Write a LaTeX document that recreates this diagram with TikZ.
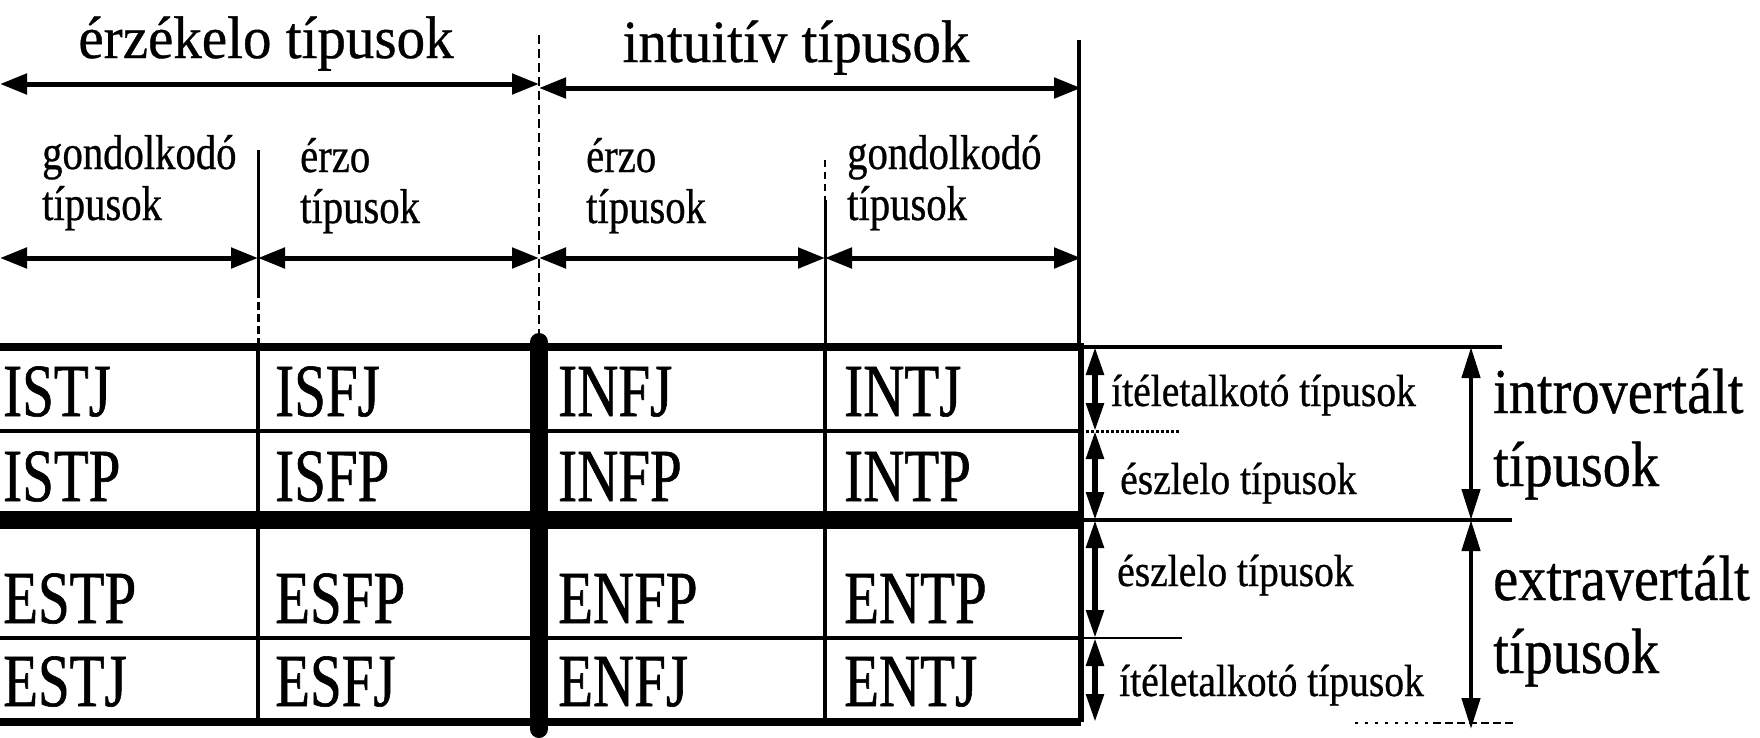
\documentclass[tikz,border=0pt]{standalone}
\usepackage{fontspec}
\setmainfont{Liberation Serif}
\newfontfamily\cellfont[FakeStretch=0.76,FakeBold=0.8]{Liberation Serif}
\newfontfamily\subfont[FakeStretch=0.83,FakeBold=0.6]{Liberation Serif}
\newfontfamily\sidefont[FakeStretch=0.88,FakeBold=0.6]{Liberation Serif}
\newfontfamily\hdrfont[FakeStretch=0.95,FakeBold=0.6]{Liberation Serif}
\usetikzlibrary{arrows.meta}
\tikzset{
  hdim/.style={line width=5pt, {Triangle[length=27pt,width=20pt]}-{Triangle[length=27pt,width=20pt]}},
  vdim/.style={line width=5.5pt, {Triangle[length=28pt,width=17pt]}-{Triangle[length=28pt,width=17pt]}},
  bigvdim/.style={line width=4.5pt, {Triangle[length=31pt,width=18pt]}-{Triangle[length=31pt,width=18pt]}},
  cell/.style={anchor=base west, inner sep=0pt, font=\cellfont\fontsize{75}{75}\selectfont},
  hdr/.style={anchor=base, inner sep=0pt, font=\hdrfont\fontsize{60}{60}\selectfont},
  sub/.style={anchor=base west, inner sep=0pt, font=\subfont\fontsize{49}{49}\selectfont},
  side/.style={anchor=base west, inner sep=0pt, font=\sidefont\fontsize{45}{45}\selectfont},
  big/.style={anchor=base west, inner sep=0pt, font=\sidefont\fontsize{64}{64}\selectfont},
  thin/.style={line width=3.5pt},
  gridthick/.style={line width=18pt},
}
\begin{document}
\begin{tikzpicture}[x=1pt,y=-1pt]
\useasboundingbox (0,0) rectangle (1760,737);
% grid coordinates
\foreach \n/\xx in {0/0,1/258,2/539,3/825,4/1081}{
  \foreach \m/\yy in {0/347,1/431,2/520,3/638,4/722}{
    \coordinate (g\n\m) at (\xx,\yy);
  }
}
% table horizontal lines
\draw[line width=8pt] (g00) -- (g40);
\draw[thin] (g01) -- (g41);
\draw[gridthick] (g02) -- (g42);
\draw[line width=4.5pt] (g03) -- (g43);
\draw[line width=8pt] (g04) -- (g44);
% table vertical lines
\draw[thin] (g10) -- (g14);
\draw[thin] (g30) -- (g34);
\coordinate (rtop) at (1081,343);
\draw[line width=6pt] (rtop) -- (g44);
\coordinate (ctop) at (539,342);
\coordinate (cbot) at (539,729);
\draw[gridthick, line cap=round] (ctop) -- (cbot);
% extensions right
\coordinate (e0) at (1502,347);
\coordinate (e1) at (1180,431);
\coordinate (e2) at (1512,520);
\coordinate (e3) at (1182,638);
\coordinate (e4a) at (1355,723);
\coordinate (e4b) at (1433,723);
\coordinate (e4c) at (1515,723);
\draw[line width=3.5pt] (g40) -- (e0);
\draw[line width=3pt, dotted] (g41) -- (e1);
\draw[line width=3.5pt] (g42) -- (e2);
\draw[line width=2.5pt] (g43) -- (e3);
\draw[line width=2.5pt, dash pattern=on 3pt off 7pt] (e4a) -- (e4b);
\draw[line width=2.5pt, dash pattern=on 8pt off 4pt] (e4b) -- (e4c);
% vertical guides above table
\coordinate (v1a) at (258,150);
\coordinate (v1b) at (258,290);
\draw[line width=3pt] (v1a) -- (v1b);
\draw[line width=3pt, dash pattern=on 8pt off 4pt] (v1b) -- (g10);
\coordinate (v2a) at (539,35);
\draw[line width=2.5pt, dash pattern=on 9pt off 5pt] (v2a) -- (g20);
\coordinate (v3a) at (825,160);
\coordinate (v3b) at (825,200);
\draw[line width=2.5pt, dash pattern=on 7pt off 5pt] (v3a) -- (v3b);
\draw[line width=3pt] (v3b) -- (g30);
\coordinate (v4a) at (1079,40);
\coordinate (v4b) at (1079,347);
\draw[line width=3.5pt] (v4a) -- (v4b);
% top dimension arrows
\coordinate (t0) at (0,84);
\coordinate (t1) at (539,84);
\coordinate (t1b) at (539,88);
\coordinate (t2) at (1081,88);
\draw[hdim] (t0) -- (t1);
\draw[hdim] (t1b) -- (t2);
\foreach \i/\xx in {0/0,1/258,2/539,3/825,4/1081}{
  \coordinate (s\i) at (\xx,258);
}
\draw[hdim] (s0) -- (s1);
\draw[hdim] (s1) -- (s2);
\draw[hdim] (s2) -- (s3);
\draw[hdim] (s3) -- (s4);
% right dimension arrows
\foreach \i/\yy in {0/347,1/431,2/520,3/638,4/722}{
  \coordinate (a\i) at (1095,\yy);
}
\draw[vdim] (a0) -- (a1);
\draw[vdim] (a1) -- (a2);
\draw[vdim] (a2) -- (a3);
\draw[vdim] (a3) -- (a4);
\coordinate (b0) at (1471,347);
\coordinate (b1) at (1471,520);
\coordinate (b2) at (1471,729);
\draw[bigvdim] (b0) -- (b1);
\draw[bigvdim] (b1) -- (b2);
% headers
\node[hdr] (hS) at (266,58) {érzékelo típusok};
\node[hdr] (hN) at (796,62) {intuitív típusok};
\node[sub] (sT1) at (42,169) {gondolkodó};
\node[sub] (sT2) at (42,220) {típusok};
\node[sub] (sF1) at (300,172) {érzo};
\node[sub] (sF2) at (300,223) {típusok};
\node[sub] (sF3) at (586,172) {érzo};
\node[sub] (sF4) at (586,223) {típusok};
\node[sub] (sT3) at (847,169) {gondolkodó};
\node[sub] (sT4) at (847,220) {típusok};
% cells
\node[cell] (ISTJ) at (3,416) {ISTJ};
\node[cell] (ISFJ) at (275,416) {ISFJ};
\node[cell] (INFJ) at (558,416) {INFJ};
\node[cell] (INTJ) at (844,416) {INTJ};
\node[cell] (ISTP) at (3,501) {ISTP};
\node[cell] (ISFP) at (275,501) {ISFP};
\node[cell] (INFP) at (558,501) {INFP};
\node[cell] (INTP) at (844,501) {INTP};
\node[cell] (ESTP) at (3,623) {ESTP};
\node[cell] (ESFP) at (275,623) {ESFP};
\node[cell] (ENFP) at (558,623) {ENFP};
\node[cell] (ENTP) at (844,623) {ENTP};
\node[cell] (ESTJ) at (3,706) {ESTJ};
\node[cell] (ESFJ) at (275,706) {ESFJ};
\node[cell] (ENFJ) at (558,706) {ENFJ};
\node[cell] (ENTJ) at (844,706) {ENTJ};
% side labels
\node[side] (r1) at (1111,406) {ítéletalkotó típusok};
\node[side] (r2) at (1120,494) {észlelo típusok};
\node[side] (r3) at (1117,586) {észlelo típusok};
\node[side] (r4) at (1119,696) {ítéletalkotó típusok};
\node[big] (I1) at (1493,413) {introvertált};
\node[big] (I2) at (1493,486) {típusok};
\node[big] (E1) at (1493,600) {extravertált};
\node[big] (E2) at (1493,673) {típusok};
\end{tikzpicture}
\end{document}
